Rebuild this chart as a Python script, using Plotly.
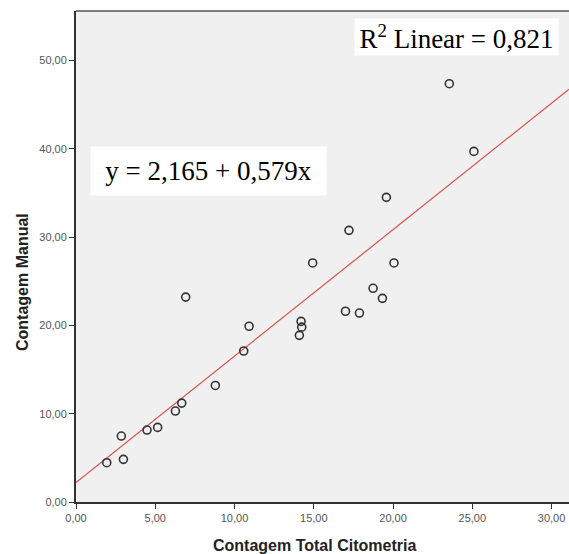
import plotly.graph_objects as go

# Data
citometria = [1.94, 2.86, 2.99, 4.48, 5.15, 6.27, 6.67, 6.92, 8.79, 10.58, 10.92,
              14.20, 14.24, 14.09, 17.00, 17.88, 18.74, 19.33,
              23.55, 25.10, 19.58, 17.22, 14.93, 20.06]
manual = [4.45, 7.47, 4.83, 8.15, 8.45, 10.30, 11.20, 23.20, 13.20, 17.10, 19.90,
          20.45, 19.80, 18.87, 21.60, 21.40, 24.20, 23.06,
          47.37, 39.70, 34.50, 30.76, 27.07, 27.07]

fit_intercept = 2.2
fit_slope = 1.432
x_range = [0, 31.1]
y_range = [0, 55.6]

x_ticks = [0, 5, 10, 15, 20, 25, 30]
x_ticklabels = ["0,00", "5,00", "10,00", "15,00", "20,00", "25,00", "30,00"]
y_ticks = [0, 10, 20, 30, 40, 50]
y_ticklabels = ["0,00", "10,00", "20,00", "30,00", "40,00", "50,00"]

eq_text = "y = 2,165 + 0,579x"
r2_text = "R<sup>2</sup> Linear = 0,821"
x_title = "<b>Contagem Total Citometria</b>"
y_title = "<b>Contagem Manual</b>"

W, H = 569, 554
ML, MR, MT, MB = 76, 0, 11, 52
pw, ph = W - ML - MR, H - MT - MB

fig = go.Figure()

fit_x = [x_range[0], x_range[1]]
fit_y = [fit_intercept + fit_slope * v for v in fit_x]
fig.add_trace(go.Scatter(x=fit_x, y=fit_y, mode="lines",
                         line=dict(color="#d9534f", width=1.2),
                         hoverinfo="skip", showlegend=False))

fig.add_trace(go.Scatter(x=citometria, y=manual, mode="markers",
                         marker=dict(symbol="circle-open", size=8,
                                     color="#333333", line=dict(width=1.6, color="#333333")),
                         showlegend=False))

axis_common = dict(showgrid=False, zeroline=False, showline=True, linecolor="#333333",
                   linewidth=2, ticks="outside", ticklen=5, tickwidth=1, tickcolor="#333333",
                   tickfont=dict(size=11, color="#555555"))

fig.update_layout(
    width=W, height=H,
    margin=dict(l=ML, r=MR, t=MT, b=MB),
    paper_bgcolor="white",
    plot_bgcolor="#f0f0f0",
    font=dict(family="Liberation Sans, Arial", size=11, color="#555555"),
    xaxis=dict(range=x_range, tickvals=x_ticks, ticktext=x_ticklabels, **axis_common),
    yaxis=dict(range=y_range, tickvals=y_ticks, ticktext=y_ticklabels, **axis_common),
    shapes=[dict(type="line", xref="paper", yref="paper", x0=0, x1=1, y0=1, y1=1,
                 line=dict(color="black", width=1))],
)

serif = "Liberation Serif, Times New Roman, serif"
fig.add_annotation(x=8.36, y=37.5, xref="x", yref="y", text=eq_text, showarrow=False,
                   font=dict(family=serif, size=27, color="black"),
                   bgcolor="white", width=235, height=48, borderpad=0)
fig.add_annotation(x=24.0, y=52.7, xref="x", yref="y", text=r2_text, showarrow=False,
                   font=dict(family=serif, size=27, color="black"),
                   bgcolor="white", width=203, height=36, borderpad=0)

fig.add_annotation(x=(314 - ML) / pw, y=(H - MB - 545) / ph, xref="paper", yref="paper",
                   xanchor="center", yanchor="middle", text=x_title, showarrow=False,
                   font=dict(size=16, color="#222222"))
fig.add_annotation(x=(22 - ML) / pw, y=(H - MB - 282) / ph, xref="paper", yref="paper",
                   xanchor="center", yanchor="middle", text=y_title, textangle=-90,
                   showarrow=False, font=dict(size=16, color="#222222"))

fig.write_html("out.html")
